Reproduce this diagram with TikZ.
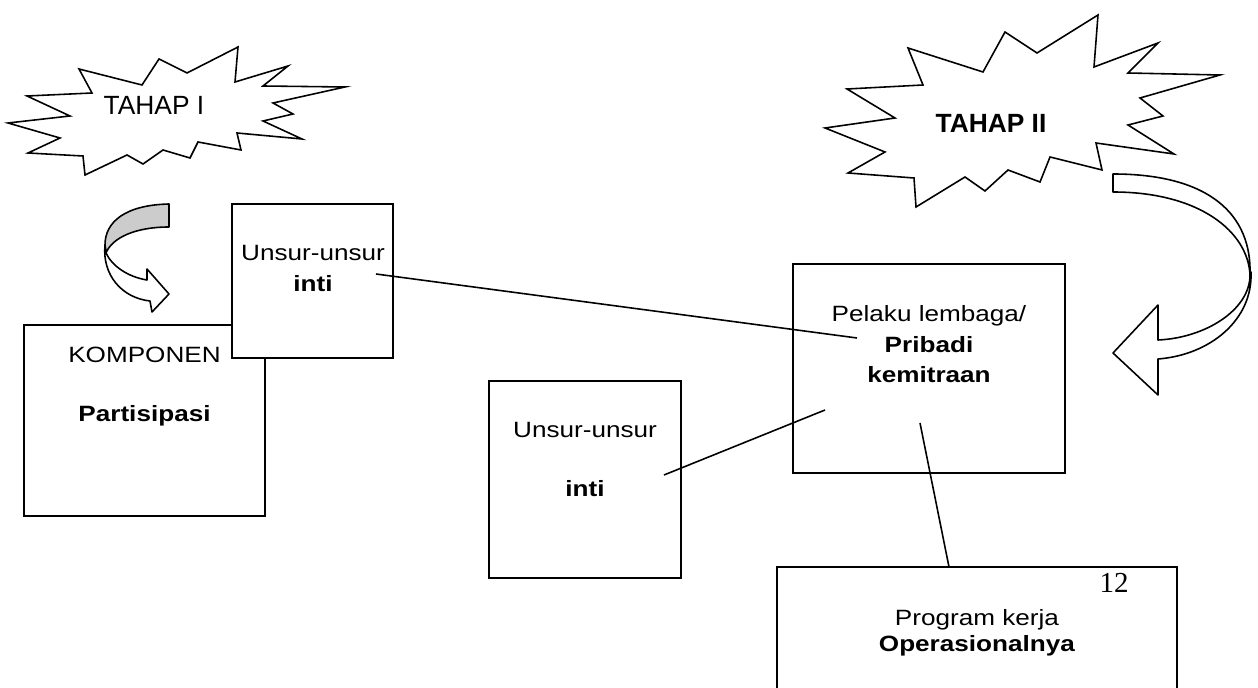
\documentclass[tikz,border=0pt]{standalone}
\usepackage{fontspec}
\setmainfont{Liberation Sans}
\newfontfamily\timesfont{Liberation Serif}
\usepackage{graphicx}
\usetikzlibrary{fit}
\usepackage{color}

\newcommand{\wide}[1]{\scalebox{1.18}[1]{#1}}

\begin{document}
\begin{tikzpicture}[x=0.02cm, y=-0.02cm,
        boxnode/.style={draw, line width=0.9pt, fill=white, inner sep=0pt},
        boxtext/.style={font=\fontsize{12.6}{15}\selectfont, anchor=base, inner sep=0pt},
        startext/.style={font=\fontsize{15}{18}\selectfont, anchor=base, inner sep=0pt},
        starshape/.style={draw, line width=0.9pt, line join=miter, fill=white},
        ribbon/.style={draw, line width=0.9pt, line join=round, fill=white},
        link/.style={line width=0.9pt}]
            \useasboundingbox (0,0) rectangle (1258,688);

            \draw[starshape] (8,123) -- (70,116) -- (27,96) -- (92,93) -- (79,69) -- (142,85) -- (159,59) -- (187,73) -- (238,47) -- (235,82) -- (288,66) -- (263,86) -- (345,87) -- (273,103) -- (293,114) -- (263,121) -- (302,139) -- (237,133) -- (241,150) -- (198,142) -- (190,158) -- (163,150) -- (143,164) -- (127,155) -- (85,175) -- (83,156) -- (28,153) -- (60,138) -- cycle;
            \node[startext] (S1) at (154,115) {TAHAP I};

            \draw[starshape] (825,128) -- (895,118) -- (847,89) -- (923,85) -- (908,48) -- (983,72) -- (1005,32) -- (1037,53) -- (1098,15) -- (1094,67) -- (1158,43) -- (1128,73) -- (1220,75) -- (1140,98) -- (1163,116) -- (1128,125) -- (1174,154) -- (1096,143) -- (1102,170) -- (1050,157) -- (1040,182) -- (1008,170) -- (985,191) -- (965,177) -- (916,207) -- (914,178) -- (848,173) -- (885,152) -- cycle;
            \node[startext] (S2) at (991,133) {\textbf{TAHAP II}};

            \draw[ribbon, fill=gray!40] (169,204) -- (169,227) .. controls (135,227) and (112,238) .. (106,253) -- (105,245) .. controls (105,222) and (125,205) .. (169,204) -- cycle;
            \draw[ribbon] (105,245) .. controls (102,275) and (122,298) .. (150,301) -- (152,312) -- (169,294) -- (147,269) -- (147,280) .. controls (128,277) and (112,266) .. (106,253) -- cycle;

            \draw[ribbon] (1113,174) -- (1113,192) .. controls (1200,192) and (1248,232) .. (1250,275) .. controls (1252,215) and (1210,174) .. (1113,174) -- cycle;
            \draw[ribbon] (1250,275) .. controls (1250,310) and (1205,338) .. (1158,340) -- (1158,305) -- (1113,353) -- (1158,395) -- (1158,359) .. controls (1210,355) and (1253,320) .. (1251,272) -- cycle;

            \node[boxnode, fit={(24,325) (265,516)}] (A) {};
            \node[boxnode, fit={(232,204) (393,358)}] (B) {};
            \node[boxnode, fit={(489,381) (681,578)}] (C) {};
            \node[boxnode, fit={(793,264) (1065,473)}] (D) {};
            \node[boxnode, fit={(777,567) (1177,720)}] (E) {};

            \node[boxtext] (A1) at (144.5,363) {\wide{KOMPONEN}};
            \node[boxtext] (A2) at (144.5,422) {\wide{\textbf{Partisipasi}}};
            \node[boxtext] (B1) at (313,261) {\wide{Unsur-unsur}};
            \node[boxtext] (B2) at (313,292) {\wide{\textbf{inti}}};
            \node[boxtext] (C1) at (585,438) {\wide{Unsur-unsur}};
            \node[boxtext] (C2) at (585,497) {\wide{\textbf{inti}}};
            \node[boxtext] (D1) at (929,322) {\wide{Pelaku lembaga/}};
            \node[boxtext] (D2) at (929,353) {\wide{\textbf{Pribadi}}};
            \node[boxtext] (D3) at (929,383) {\wide{\textbf{kemitraan}}};
            \node[boxtext] (E1) at (977,626) {\wide{Program kerja}};
            \node[boxtext] (E2) at (977,652) {\wide{\textbf{Operasionalnya}}};
            \node[anchor=base, inner sep=0pt, font=\timesfont\fontsize{16.5}{19}\selectfont] (N) at (1114,593) {12};

            \coordinate (PB) at (376,274);
            \coordinate (PD1) at (857,338);
            \coordinate (PC) at (664,475);
            \coordinate (PD2) at (825,410);
            \coordinate (PD3) at (920,423);
            \coordinate (PE) at (949,567);

            \draw[link] (PB) -- (PD1);
            \draw[link] (PC) -- (PD2);
            \draw[link] (PD3) -- (PE);
        \end{tikzpicture}
\end{document}
